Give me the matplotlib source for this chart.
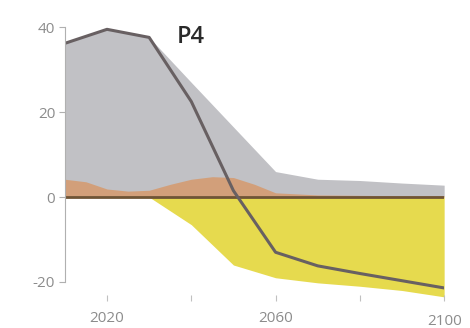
import numpy as np
import matplotlib.pyplot as plt
from matplotlib.transforms import ScaledTranslation

plt.rcParams['axes.unicode_minus'] = False

# scenario P4: CO2 flows in GtCO2/yr
years = [2010, 2020, 2030, 2040, 2050, 2060, 2070, 2080, 2090, 2100]
gross_pos = [36.2, 39.5, 37.6, 27.0, 16.5, 6.0, 4.2, 3.9, 3.3, 2.8]
neg = [0.0, 0.0, 0.0, -6.5, -16.0, -19.0, -20.2, -21.0, -22.0, -23.5]
net = [36.2, 39.5, 37.6, 22.5, 1.5, -13.0, -16.2, -18.0, -19.7, -21.4]

afolu_years = [2010, 2015, 2020, 2025, 2030, 2035, 2040, 2045, 2050, 2055, 2060, 2070, 2080, 2090, 2100]
afolu = [4.2, 3.6, 1.9, 1.4, 1.6, 3.0, 4.2, 4.8, 4.6, 3.0, 1.0, 0.5, 0.4, 0.3, 0.3]

fig = plt.figure(figsize=(4.70, 3.28), dpi=100)
ax = fig.add_axes([0.138, 0.082, 0.807, 0.848])

ax.fill_between(years, 0, gross_pos, color='#c1c1c5', lw=0)
ax.fill_between(afolu_years, 0, afolu, color='#d49c72', lw=0, alpha=0.9)
ax.fill_between(years, 0, neg, color='#e6da4e', lw=0)
ax.plot([2010, 2100], [0, 0], color='#6f5436', lw=2.0)
ax.plot(years, net, color='#686062', lw=2.2)

ax.text(2036.6, 36.2, 'P4', fontsize=17, fontfamily='Open Sans', fontweight='semibold',
        color='#2a2a2a', va='baseline', ha='left')

ax.set_xlim(2010, 2100)
ax.set_ylim(-24.5, 41)
for s in ['top', 'right', 'bottom']:
    ax.spines[s].set_visible(False)
ax.spines['left'].set_color('#b0b0b0')
ax.spines['left'].set_bounds(-20, 40)

ax.set_yticks([-20, 0, 20, 40])
ax.set_xticks([2020, 2040, 2060, 2080, 2100])
ax.set_xticklabels(['2020', '', '2060', '', '2100'])
ax.tick_params(axis='y', direction='out', length=4, color='#b0b0b0', labelcolor='#8c8c8c',
               labelsize=11, pad=3)
ax.tick_params(axis='x', direction='in', length=4, color='#c0c0c0', labelcolor='#8c8c8c',
               labelsize=11, pad=7)
for lab in ax.get_xticklabels() + ax.get_yticklabels():
    lab.set_fontfamily('Open Sans')
ax.get_xticklabels()[4].set_transform(
    ax.get_xticklabels()[4].get_transform() + ScaledTranslation(0, -0.03, fig.dpi_scale_trans))

fig.savefig('out.png', dpi=100)
